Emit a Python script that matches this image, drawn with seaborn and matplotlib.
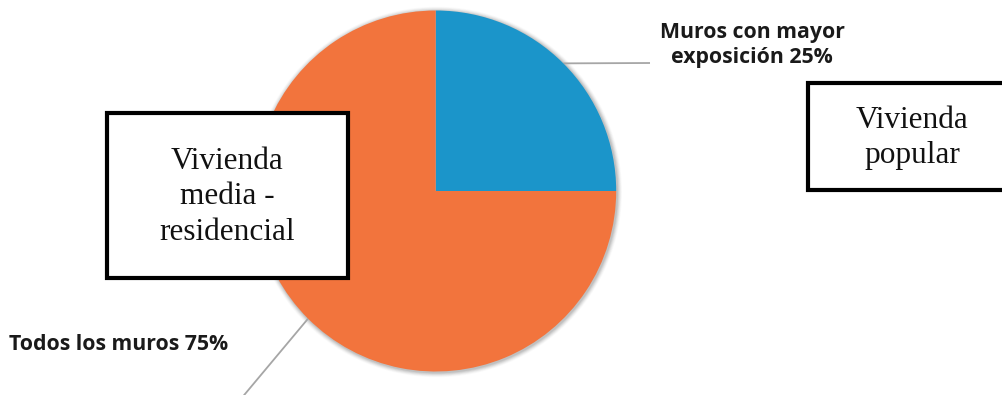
import numpy as np
import matplotlib
matplotlib.use("Agg")
import matplotlib.pyplot as plt
from matplotlib.patches import Rectangle, Circle
import seaborn as sns

# ---- data ----
categories = ["Muros con mayor\nexposición", "Todos los muros"]
values = [25, 75]
colors = ["#1B95CA", "#F2743D"]
box_texts = ["Vivienda\nmedia -\nresidencial", "Vivienda\npopular"]

sns.set_theme(style="white")
plt.rcParams['font.family'] = ['Open Sans', 'DejaVu Sans']

W, H = 1002, 395
fig = plt.figure(figsize=(W / 100, H / 100), dpi=100)
ax = fig.add_axes([0, 0, 1, 1])

cx, cy, r = 435.7, 204.0, 180.5

# soft shadow
for k, a in zip(range(6, 0, -1), [0.02, 0.03, 0.04, 0.05, 0.06, 0.07]):
    ax.add_patch(Circle((cx + 1, cy - 1), r + k * 0.8, color="#000000", alpha=a, lw=0, zorder=0))

wedges, _ = ax.pie(values, colors=colors, startangle=90, counterclock=False,
                   center=(cx, cy), radius=r, frame=True,
                   wedgeprops=dict(linewidth=0, zorder=2))

# leader lines + labels
label_pos = [(752, 350, "center"), (9, 51, "left")]
line_end = [(650, 332), (240, -5)]
for w, cat, val, (tx, ty, ha), (ex, ey) in zip(wedges, categories, values, label_pos, line_end):
    ang = np.deg2rad((w.theta1 + w.theta2) / 2)
    sx, sy = cx + r * np.cos(ang), cy + r * np.sin(ang)
    ax.plot([sx, ex], [sy, ey], color="#A6A6A6", lw=1.3, zorder=1, solid_capstyle="butt")
    ax.text(tx, ty, f"{cat} {val}%", ha=ha, va="center", fontsize=15.3,
            fontweight="bold", color="#1a1a1a", linespacing=1.25, zorder=5)

# boxes
boxes = [(107, 117, 241, 165, 227, 198), (808, 205, 220, 107, 912, 257)]
for (bx, by, bw, bh, tx, ty), t in zip(boxes, box_texts):
    ax.add_patch(Rectangle((bx, by), bw, bh, facecolor="white", edgecolor="black",
                           lw=3.0, zorder=6))
    ax.text(tx, ty, t, ha="center", va="center", fontsize=22.5, family="Liberation Serif",
            color="#111111", linespacing=1.3, zorder=7)

ax.set_xlim(0, W)
ax.set_ylim(0, H)
ax.set_aspect("equal")
ax.axis("off")
fig.savefig("out.png", dpi=100)
